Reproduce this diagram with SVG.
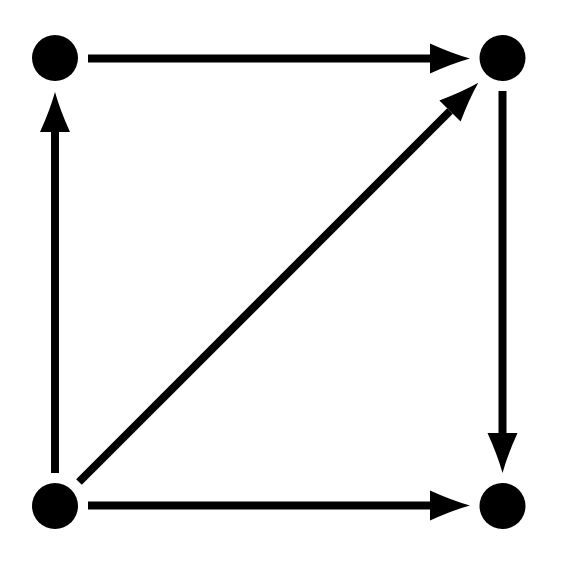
<svg xmlns="http://www.w3.org/2000/svg" width="561" height="570" viewBox="0 0 561 570">
  <style>
    .node { fill: #000; }
    .edge { stroke: #000; stroke-width: 8; fill: none; marker-end: url(#head); }
  </style>
  <defs>
    <marker id="head" markerUnits="userSpaceOnUse" markerWidth="40" markerHeight="30" viewBox="0 0 40 30" refX="0" refY="15" orient="auto" overflow="visible">
      <path d="M0,0 Q22,10 40,15 Q22,20 0,30 Z" fill="#000"/>
    </marker>
  </defs>
  <rect width="561" height="570" fill="#fff"/>
  <g id="connectors">
    <line class="edge" x1="88" y1="58.5" x2="430" y2="58.5"/>
    <line class="edge" x1="55" y1="473" x2="55" y2="132"/>
    <line class="edge" x1="502.5" y1="91" x2="502.5" y2="433"/>
    <line class="edge" x1="88" y1="505.5" x2="430" y2="505.5"/>
    <line class="edge" x1="79" y1="482" x2="450" y2="111"/>
  </g>
  <g id="node-tl"><circle class="node" cx="55" cy="58" r="23"/></g>
  <g id="node-tr"><circle class="node" cx="502.5" cy="58" r="23"/></g>
  <g id="node-bl"><circle class="node" cx="55" cy="506" r="23"/></g>
  <g id="node-br"><circle class="node" cx="502.5" cy="506" r="23"/></g>
</svg>
